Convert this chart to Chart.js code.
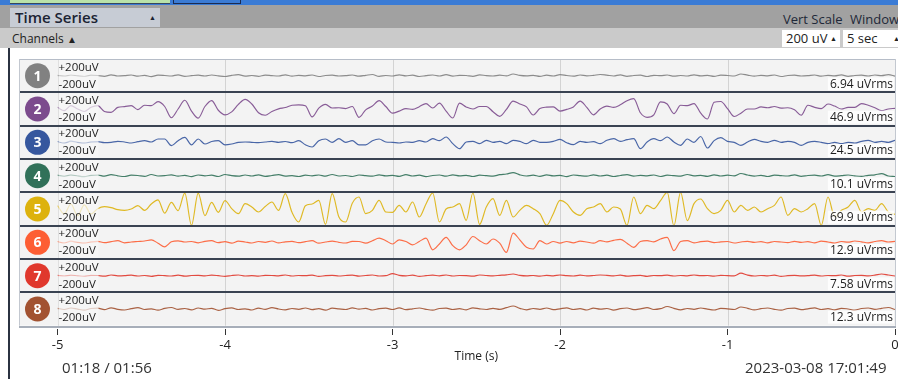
<!DOCTYPE html>
<html lang="en">
<head>
<meta charset="UTF-8">
<title>Time Series</title>
<script src="https://cdn.jsdelivr.net/npm/chart.js"></script>
<style>
  body { margin: 0; width: 898px; height: 379px; overflow: hidden; background: #fff; position: relative; font-family: "Open Sans", sans-serif; }
  .abs { position: absolute; }
  #topstrip { left: 0; top: 0; width: 898px; height: 5px; background: #3a7bd5; }
  #tabGreen { left: 10px; top: 0; width: 160px; height: 3px; background: #b9e2a9; border-bottom: 1px solid #36465e; }
  #tabBlue { left: 173px; top: 0; width: 66px; height: 3px; background: #3a7bd5; border: 1px solid #1b2b50; border-top: none; }
  #bar1 { left: 0; top: 5px; width: 898px; height: 23px; background: #a1a1a1; }
  #tsBox { left: 10px; top: 8px; width: 150px; height: 19px; background: #c7ccd5; color: #1b2333; font-size: 15px; font-weight: 600; line-height: 19px; padding-left: 5px; box-sizing: border-box; }
  #tsBox span { position: absolute; left: 139px; top: 0; font-size: 7px; }
  #vs { left: 783px; top: 10px; font-size: 13px; color: #1e2838; }
  #win { left: 850px; top: 10px; font-size: 13px; color: #1e2838; }
  #bar2 { left: 0; top: 28px; width: 898px; height: 20px; background: #cacaca; }
  #chLabel { left: 12px; top: 30px; font-size: 12px; color: #222; }
  #chLabel span { font-size: 10px; }
  .dd { top: 30px; height: 17px; background: #fff; font-size: 13px; color: #222; line-height: 17px; padding-left: 4px; box-sizing: border-box; }
  .dd span { position: absolute; top: 0; font-size: 7px; }
  #dd1 { left: 782px; width: 58px; }
  #dd1 span { left: 48px; }
  #dd2 { left: 843px; width: 60px; }
  #dd2 span { left: 50px; }
  #leftline { left: 8px; top: 48px; width: 2px; height: 331px; background: #2b3241; }
  #chart { position: absolute; left: 0; top: 48px; }
  #clock { left: 62px; top: 357px; font-size: 15px; color: #333; }
  #stamp { left: 745px; top: 357px; font-size: 15px; color: #333; white-space: nowrap; }
</style>
</head>
<body>
<div class="abs" id="topstrip"></div>
<div class="abs" id="tabGreen"></div>
<div class="abs" id="tabBlue"></div>
<div class="abs" id="bar1"></div>
<div class="abs" id="tsBox">Time Series<span>▲</span></div>
<div class="abs" id="vs">Vert Scale</div>
<div class="abs" id="win">Window</div>
<div class="abs" id="bar2"></div>
<div class="abs" id="chLabel">Channels <span>▲</span></div>
<div class="abs dd" id="dd1">200 uV<span>▲</span></div>
<div class="abs dd" id="dd2">5 sec<span>▲</span></div>
<div class="abs" id="leftline"></div>
<canvas id="chart" width="912" height="331"></canvas>
<div class="abs" id="clock">01:18 / 01:56</div>
<div class="abs" id="stamp">2023-03-08 17:01:49</div>

<script>
// window: last 5 seconds, one sample every 40 ms
const SAMPLE_STEP = 0.04;
const times = Array.from({ length: 126 }, (_, i) => -5 + i * SAMPLE_STEP);
const xTicks = [-5, -4, -3, -2, -1, 0];
const vertScale = 200; // uV, half height of a row

const channelNames = ['1', '2', '3', '4', '5', '6', '7', '8'];
const channelColors = ['#818181', '#7c4b8d', '#36579e', '#317159', '#ddb20d', '#fd5e34', '#e0382d', '#a25231'];
const rmsLabels = ['6.94 uVrms', '46.9 uVrms', '24.5 uVrms', '10.1 uVrms', '69.9 uVrms', '12.9 uVrms', '7.58 uVrms', '12.3 uVrms'];

// samples in uV
const ch1 = [4,-6,8,-2,-10,6,2,-8,10,-4, 0,8,-6,4,-12,6,2,-4,10,-8, 0,6,-4,8,-2,-10,4,12,-6,2,
  -8,6,0,-4,10,-6,4,-2,8,-10, 2,6,-4,0,8,-6,4,14,-8,2, -4,10,-2,6,-10,0,8,-4,12,-6,
  4,2,-8,10,0,-4,6,-2,20,4, -2,4,-8,6,-4,12,2,-6,8,-2, 4,14,6,-4,10,-8,2,6,-10,4,
  0,8,-6,2,-4,10,-2,4,-8,6, 2,-4,20,6,-6,4,-2,8,-10,2, 6,-4,0,8,-6,4,-2,10,-8,2, 6,-4,8,0,12,-6];
const ch2 = [20,-20,40,0,-30,20,40,-30,-40,20, 28,40,-8,45,40,88,30,-105,0,105, -25,-110,30,100,-15,-70,-35,55,115,60,
  -45,-75,-30,2,18,45,50,40,-95,10, 55,12,15,5,30,-100,-10,35,100,30, -50,-25,5,-4,28,65,12,70,-25,-108,
  70,25,0,30,30,-32,-88,-5,95,60, 25,-72,5,22,25,-25,-5,25,95,20, -70,0,35,20,50,100,125,-45,-100,-70,
  85,60,-55,45,40,65,-50,-120,80,90, 5,-90,-50,0,0,25,15,30,10,15, -10,-75,45,20,5,60,35,0,20,20, 65,45,15,-20,0,8];
const ch3 = [10,-10,15,0,-10,5,8,-4,0,12, 4,-8,8,20,4,40,40,-40,20,60, -30,40,-20,10,20,-30,-20,0,4,0,
  -4,4,12,0,10,-4,20,-30,-56,20, 40,0,44,0,20,-30,-30,20,40,4, 0,-8,4,0,20,4,44,20,64,-16,
  -76,4,12,-16,24,0,12,-16,24,12, -16,24,0,0,12,36,-4,-28,12,0, 8,-16,24,44,12,32,44,-76,4,44,
  20,64,4,-36,40,0,70,-68,20,56, 12,0,-36,4,36,12,0,24,0,12, 0,-36,0,12,0,-16,0,-16,0,-8, 12,24,0,12,0,24];
const ch4 = [6,-8,10,-4,-12,4,8,-6,12,-2, -10,6,2,-8,14,-4,0,10,-6,4, -12,8,-2,6,-10,14,0,-6,8,-4,
  10,-8,2,12,-6,0,-10,6,-2,8, -6,14,-4,2,-10,8,0,-6,10,-2, 4,-8,12,-4,6,-12,2,8,-6,10,
  -2,4,-10,6,0,-6,12,20,36,10, -4,6,-8,10,-2,4,-12,8,0,-6, 10,-4,6,-10,2,12,-6,4,-2,8,
  -10,6,0,-6,14,-2,4,-8,10,-4, 6,-2,26,8,-6,4,-10,6,0,-4, 10,-8,2,6,-4,12,-6,0,8,-2, -8,4,10,24,-4,-10];
const ch5 = [40,-60,60,-80,50,-60,4,28,16,-8, -16,0,40,-16,60,110,-50,80,-20,190, -195,190,-80,80,-40,100,4,-56,64,24,
  -36,30,84,-16,184,-40,-156,40,60,104, -184,184,-96,-156,70,144,-56,-16,104,-36, -40,44,-36,84,-96,60,192,-156,0,24,
  64,-136,192,-184,24,124,-76,104,-96,-16, 44,4,-56,-196,-56,104,64,-36,-76,4, 24,64,-36,24,0,-196,144,-56,44,4,
  100,200,-200,200,-140,64,120,4,-56,-16, 104,-36,44,-16,24,-36,4,44,144,-76, 4,-36,4,64,-196,144,-96,-16,24,104, -36,4,-16,64,-36,-64];
const ch6 = [10,-8,14,0,-10,6,12,-4,8,20, -6,4,10,16,30,-10,-54,6,18,4, 10,-6,12,20,-4,8,-10,14,4,-8,
  10,0,16,-6,6,12,-4,8,20,-10, 4,14,0,-8,12,10,-10,20,50,20, -20,30,10,-30,10,50,-90,-20,60,-40,
  -90,-30,70,20,-20,40,-10,-120,110,30, -60,-80,20,-20,10,-10,10,-6,14,4, -10,20,6,24,36,-10,-60,10,20,6,
  40,60,-100,10,20,-6,8,14,-4,6, 10,-8,4,12,0,8,-6,10,4,-4, 12,0,8,-6,14,4,-8,10,2,16, 6,-6,10,20,4,12];
const ch7 = [4,-4,6,-2,-8,4,2,-6,8,-2, 0,6,-4,2,-8,4,0,-4,6,-6, 2,4,-2,6,0,-8,2,8,-4,0,
  -6,4,2,-2,8,-4,2,0,6,-8, 0,4,-4,2,6,-6,2,8,-4,0, 24,4,-2,6,-8,0,6,-2,8,-4,
  2,0,-6,8,2,-2,4,10,20,4, -2,2,-6,4,-2,8,0,-4,6,-2, 2,8,4,-2,6,-6,0,4,-8,2,
  0,6,-4,2,-2,8,0,2,-6,4, 0,-2,30,6,-4,2,-2,6,-8,0, 4,-2,0,6,-4,2,0,8,-6,2, 4,-2,6,20,8,-4];
const ch8 = [8,-6,12,-2,-14,6,10,-8,14,-4, -12,4,16,-6,2,-14,8,18,-4,6, -10,12,-2,8,-16,4,14,-6,2,-12,
  10,-4,16,0,-10,6,-4,12,-8,4, -14,10,2,-6,14,-2,8,-12,4,10, -6,14,-8,2,12,-4,-14,6,10,-6,
  4,-10,14,2,-6,8,-4,16,36,8, -10,6,-4,12,-8,2,14,-6,4,-12, 10,-2,6,-14,4,12,-8,2,16,-6,
  4,30,8,-10,6,-4,12,-2,-12,8, 2,-6,24,8,-10,4,12,-4,-14,6, 10,-8,2,14,-6,4,-10,8,0,-12, 6,12,-4,8,18,-6];

const channels = [ch1, ch2, ch3, ch4, ch5, ch6, ch7, ch8];
const nRows = channels.length;

// each channel gets its own row on a shared 0..8 axis, row 0 at the top
const datasets = channels.map((vals, i) => ({
  label: 'Ch ' + channelNames[i],
  data: vals.map((v, k) => ({ x: times[k], y: nRows - i - 0.5 + v / (2 * vertScale) })),
  borderColor: channelColors[i] + 'e6',
  borderWidth: 1.15,
  pointRadius: 0,
  cubicInterpolationMode: 'monotone',
  fill: false
}));

const rowsPlugin = {
  id: 'rows',
  beforeDraw(chart) {
    const { ctx, chartArea: a, scales: { x, y } } = chart;
    const left = a.left - 38.5;
    const top = y.getPixelForValue(nRows), bottom = y.getPixelForValue(0);
    ctx.save();
    ctx.fillStyle = '#f3f3f3';
    ctx.fillRect(left, top, a.right - left + 1, bottom - top);
    ctx.strokeStyle = '#d3d3d3';
    ctx.lineWidth = 1;
    xTicks.forEach(t => {
      const px = Math.round(x.getPixelForValue(t)) + 0.5;
      ctx.beginPath();
      ctx.moveTo(px, top);
      ctx.lineTo(px, bottom);
      ctx.stroke();
    });
    ctx.restore();
  },
  afterDatasetsDraw(chart) {
    const { ctx, chartArea: a, scales: { y } } = chart;
    const left = a.left - 38.5;
    const rowTop = i => y.getPixelForValue(nRows - i);
    const rowBot = i => y.getPixelForValue(nRows - i - 1);
    ctx.save();
    ctx.textBaseline = 'middle';
    for (let i = 0; i < nRows; i++) {
      const t = rowTop(i), b = rowBot(i), m = (t + b) / 2;
      // scale labels
      ctx.font = '11.5px "Open Sans"';
      ctx.fillStyle = 'rgba(247,247,247,0.72)';
      ctx.fillRect(a.left + 1, t + 1, 40, m - t - 1);
      ctx.fillRect(a.left + 1, m, 40, b - m - 1);
      ctx.fillStyle = '#1d1d1d';
      ctx.textAlign = 'left';
      ctx.fillText('+' + vertScale + 'uV', a.left + 1, t + 8.5);
      ctx.fillText('-' + vertScale + 'uV', a.left + 1, b - 8);
      // rms label
      ctx.font = '12px "Open Sans"';
      const w = ctx.measureText(rmsLabels[i]).width;
      ctx.fillStyle = 'rgba(255,255,255,0.8)';
      ctx.fillRect(a.right - w - 4, b - 15, w + 3, 13);
      ctx.fillStyle = '#1d1d1d';
      ctx.textAlign = 'right';
      ctx.fillText(rmsLabels[i], a.right - 2, b - 8);
      // channel badge
      ctx.fillStyle = channelColors[i];
      ctx.beginPath();
      ctx.arc(a.left - 20, m, 12.5, 0, Math.PI * 2);
      ctx.fill();
      ctx.fillStyle = '#fff';
      ctx.textAlign = 'center';
      ctx.font = 'bold 14px "Open Sans"';
      ctx.fillText(channelNames[i], a.left - 20, m + 1);
    }
    // row dividers and frame
    ctx.fillStyle = '#3a4352';
    for (let i = 0; i < nRows - 1; i++) {
      ctx.fillRect(left, Math.round(rowBot(i)) - 1, a.right - left + 1, 2);
    }
    ctx.fillStyle = '#b6bdc8';
    ctx.fillRect(left, Math.round(rowTop(0)), a.right - left + 1, 1);
    ctx.fillStyle = '#a7aeb9';
    ctx.fillRect(left, Math.round(rowBot(nRows - 1)), a.right - left + 1, 2);
    ctx.fillStyle = '#c3c8d0';
    ctx.fillRect(left, rowTop(0), 1, rowBot(nRows - 1) - rowTop(0));
    ctx.fillRect(a.right, rowTop(0), 1, rowBot(nRows - 1) - rowTop(0));
    ctx.restore();
  }
};

const ctx = document.getElementById('chart').getContext('2d');
new Chart(ctx, {
  type: 'line',
  data: { datasets },
  plugins: [rowsPlugin],
  options: {
    responsive: false,
    animation: false,
    devicePixelRatio: 1,
    layout: { padding: { left: 0, right: 17, top: 11, bottom: 0 } },
    plugins: { legend: { display: false }, tooltip: { enabled: false } },
    scales: {
      x: {
        type: 'linear',
        min: -5,
        max: 0,
        afterBuildTicks: s => { s.ticks = xTicks.map(v => ({ value: v })); },
        ticks: { color: '#222', font: { family: 'Open Sans', size: 13 }, padding: 2, maxRotation: 0 },
        grid: { drawOnChartArea: false, color: '#333', tickLength: 6 },
        border: { display: false },
        title: { display: true, text: 'Time (s)', color: '#222', font: { family: 'Open Sans', size: 12 }, padding: { top: 0, bottom: 15 } },
        afterFit: s => { s.height = 50; }
      },
      y: {
        type: 'linear',
        min: -0.1,
        max: nRows,
        ticks: { display: false },
        grid: { display: false },
        border: { display: false },
        afterFit: s => { s.width = 57.5; }
      }
    }
  }
});
</script>
</body>
</html>
